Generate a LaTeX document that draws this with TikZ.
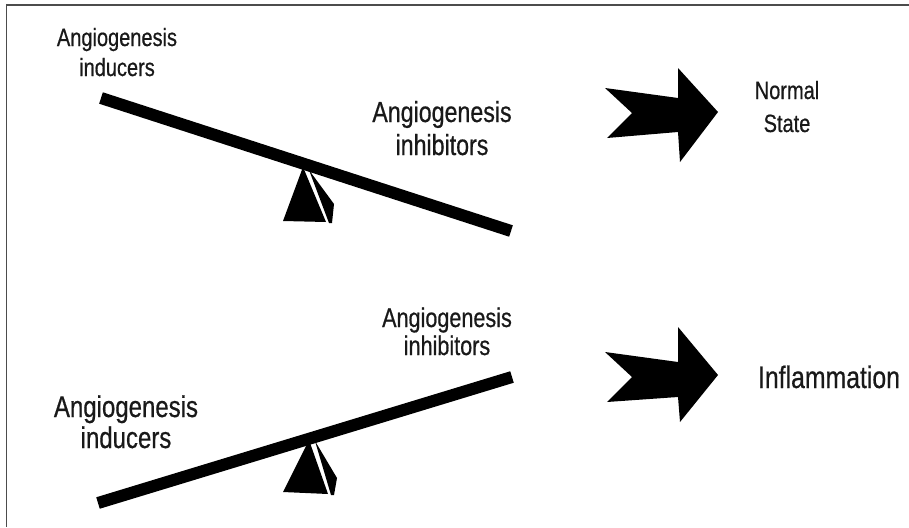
\documentclass[tikz,border=0pt]{standalone}
\usepackage{fontspec}
\newfontfamily\nar[FakeStretch=0.8,FakeBold=0.6]{Liberation Sans}
\begin{document}
\begin{tikzpicture}[x=1pt,y=-1pt,
  lbl/.style={font=\nar\fontsize{#1}{#1}\selectfont, align=center, inner sep=0pt, text=black!90},
  beam/.style={line width=12pt, line cap=butt, black},
  solid/.style={fill=black, draw=none}]
\useasboundingbox (0,0) rectangle (909,527);
% frame
\draw[line width=2.2pt, black!70] (6,5) -- (909,5);
\draw[line width=1pt, black!70] (6,4) -- (6,527);
% top balance
\coordinate (t1) at (101,98);
\coordinate (t2) at (511,231);
\draw[beam] (t1) -- (t2);
\fill[solid] (303,167) -- (283,221) -- (326,222) -- cycle;
\fill[solid] (309,170) -- (334,204) -- (332,223) -- (329,223) -- cycle;
% bottom balance
\coordinate (b1) at (98,503);
\coordinate (b2) at (512,377);
\draw[beam] (b1) -- (b2);
\fill[solid] (309,440) -- (283,492) -- (328,494) -- cycle;
\fill[solid] (315,441) -- (337,478) -- (334,495) -- (331,495) -- cycle;
% arrows
\fill[solid] (605,88) -- (678,98) -- (678,68) -- (718,112) -- (680,162) -- (678,132) -- (607,138) -- (632,113) -- cycle;
\fill[solid] (605,352) -- (678,362) -- (678,327) -- (718,375) -- (680,422) -- (678,397) -- (607,402) -- (632,377) -- cycle;
% labels
\node[lbl=25, anchor=base] (ind1) at (117,76) {Angiogenesis\\[5pt]inducers};
\node[lbl=29, anchor=base] (inh1) at (442,155) {Angiogenesis\\[4pt]inhibitors};
\node[lbl=27, anchor=base] (inh2) at (447,355) {Angiogenesis\\[1pt]inhibitors};
\node[lbl=30, anchor=base] (ind2) at (126,448) {Angiogenesis\\[1pt]inducers};
\node[lbl=25, anchor=base] (norm) at (787,132) {Normal\\[8pt]State};
\node[lbl=31, anchor=base] (infl) at (829,388) {Inflammation};
\end{tikzpicture}
\end{document}
